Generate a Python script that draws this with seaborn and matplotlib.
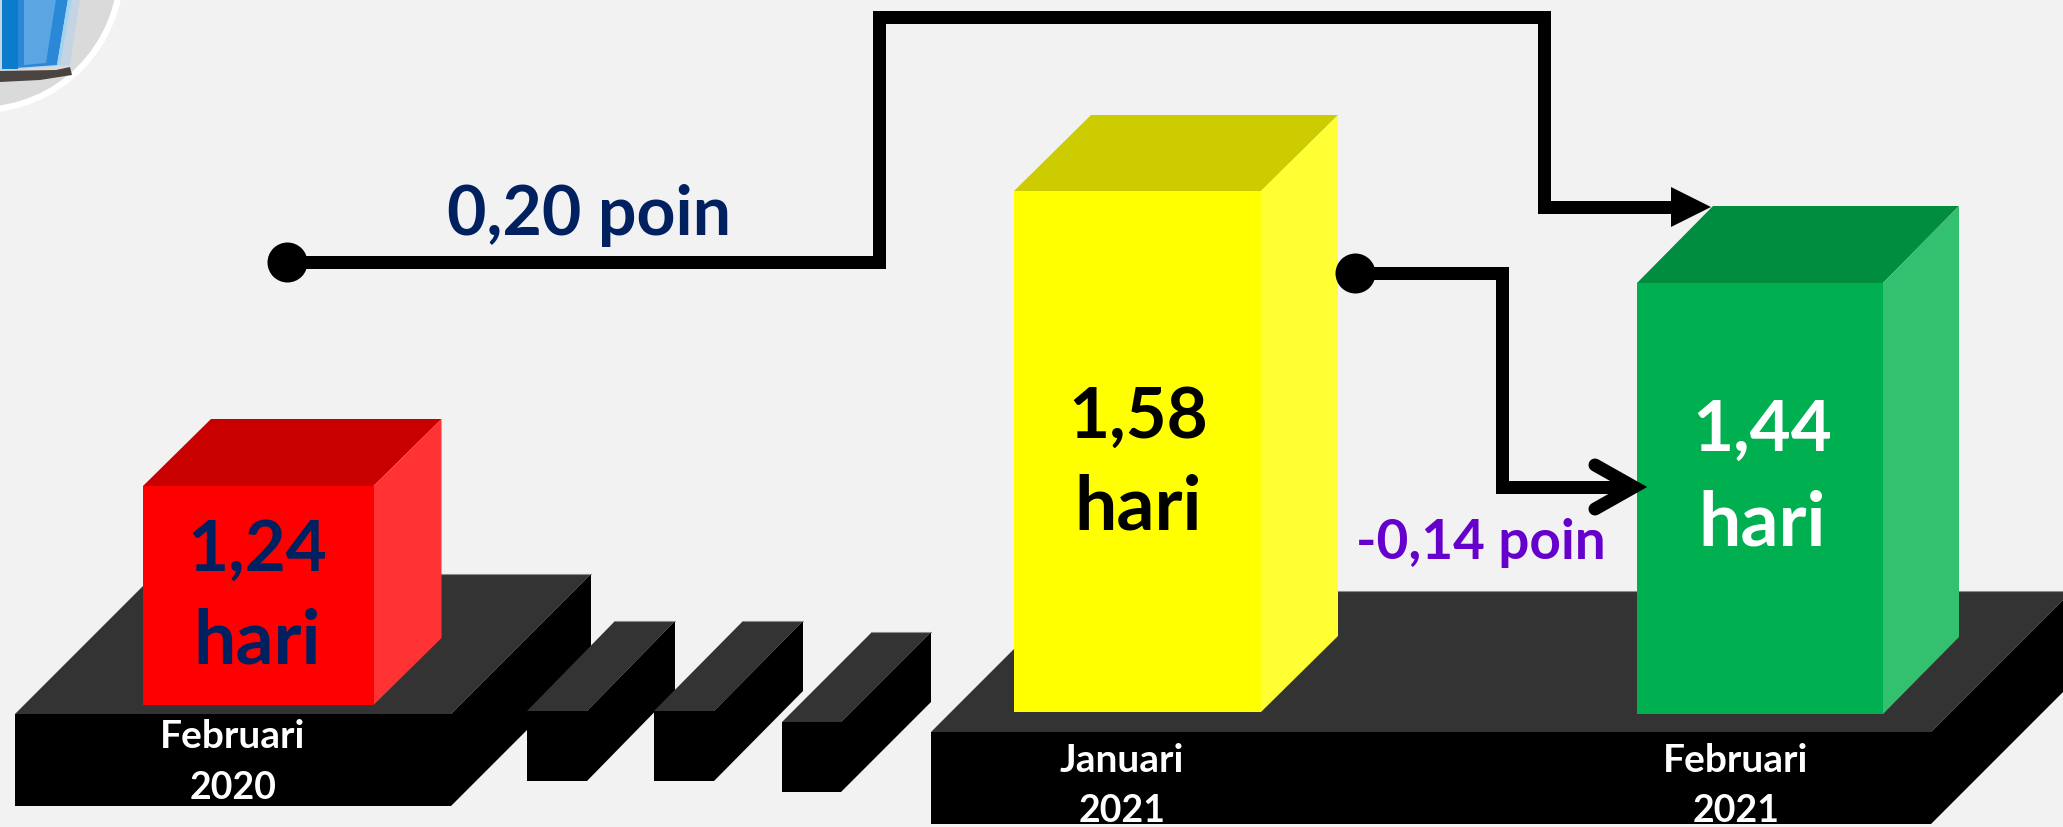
import matplotlib
matplotlib.use('Agg')
import matplotlib.pyplot as plt
from matplotlib.patches import Circle, Polygon
import pandas as pd
import seaborn as sns

W, H = 2063, 828

# values as printed on the bars
periods = ['Februari 2020', 'Januari 2021', 'Februari 2021']
values = ['1,24', '1,58', '1,44']
# the bars are pictorial and not to scale, these are the drawn heights in px
bar_heights = [219, 521, 431]

front_colors = ['#FF0000', '#FFFF00', '#00B050']
side_colors = ['#FF3333', '#FFFF33', '#33C06F']
top_colors = ['#C80000', '#CCCC00', '#008D40']
value_colors = ['#002060', '#000000', '#FFFFFF']

sns.set_theme(style='white')
plt.rcParams['font.family'] = ['Lato', 'DejaVu Sans']

BG = '#F2F2F2'
fig = plt.figure(figsize=(W / 100, H / 100), dpi=100, facecolor=BG)
ax = fig.add_axes([0, 0, 1, 1], facecolor=BG)


def py(y):
    return H - y


def poly(points, color, z):
    ax.add_patch(Polygon([(x, py(y)) for x, y in points], closed=True,
                         facecolor=color, edgecolor='none', zorder=z))


def block(x0, x1, y0, y1, dx, dy, z):
    poly([(x0, y0), (x1, y0), (x1 + dx, y0 - dy), (x0 + dx, y0 - dy)], '#333333', z)
    poly([(x1, y0), (x1 + dx, y0 - dy), (x1 + dx, y1 - dy), (x1, y1)], '#000000', z)
    poly([(x0, y0), (x1, y0), (x1, y1), (x0, y1)], '#000000', z)
    # thin light edge along the back of the top face
    ax.plot([x0 + dx, x1 + dx], [py(y0 - dy), py(y0 - dy)], color='#8C8C8C', lw=0.8, zorder=z)


# logo in the corner
ax.add_patch(Circle((-20, py(-30)), 141, facecolor='#DADADA', edgecolor='white', linewidth=4.5, zorder=1))
poly([(0, 0), (80, 0), (70, 66), (0, 72)], '#C4D4E4', 2)
poly([(2, 0), (68, 0), (57, 66), (2, 70)], '#2A88D6', 2)
poly([(2, 0), (18, 0), (18, 70), (2, 70)], '#0B7BCB', 2)
poly([(24, 0), (56, 0), (46, 64), (24, 66)], '#5BA6E2', 2)
poly([(68, 0), (72, 0), (60, 66), (57, 66)], '#9FD4F2', 3)
poly([(0, 72), (56, 71), (70, 68), (72, 76), (40, 81), (0, 83)], '#4A4340', 3)

# platforms and the broken axis pieces
block(15, 451, 715, 807, 140, 140, 2)
block(527, 587, 712, 782, 88, 90, 3)
block(654, 714, 712, 782, 89, 90, 3)
block(782, 841, 723, 793, 90, 90, 3)
block(931, 1931, 733, 825, 141, 141, 2)

# front faces come from seaborn
df = pd.DataFrame({'period': periods, 'height': bar_heights})
bar_left = [143, 1014, 1637]
bar_right = [373.5, 1261, 1883]
bar_bottom = [706, 713, 715]
df['center'] = [(a + b) / 2 for a, b in zip(bar_left, bar_right)]
sns.barplot(data=df, x='center', y='height', hue='period', palette=dict(zip(periods, front_colors)),
            native_scale=True, dodge=False, legend=False, saturation=1, linewidth=0, ax=ax, zorder=5)
bars = [p for c in ax.containers for p in c]
for bar, x0, x1, y1 in zip(bars, bar_left, bar_right, bar_bottom):
    bar.set_x(x0)
    bar.set_width(x1 - x0)
    bar.set_y(py(y1))

# side and top faces of the bars
depth_x = [68, 77, 76]
depth_y = [67, 76, 77]
for i in range(3):
    x0, x1, y1 = bar_left[i], bar_right[i], bar_bottom[i]
    y0 = y1 - bar_heights[i]
    dx, dy = depth_x[i], depth_y[i]
    poly([(x0, y0), (x1, y0), (x1 + dx, y0 - dy), (x0 + dx, y0 - dy)], top_colors[i], 4)
    poly([(x1, y0), (x1 + dx, y0 - dy), (x1 + dx, y1 - dy), (x1, y1)], side_colors[i], 4)

# connectors
LW = 13 * 0.72
line_1_x = [287, 879, 879, 1544, 1544, 1675]
line_1_y = [263, 263, 18, 18, 208, 208]
line_2_x = [1355, 1502, 1502, 1625]
line_2_y = [274, 274, 488, 488]
for xs, ys in [(line_1_x, line_1_y), (line_2_x, line_2_y)]:
    ax.plot(xs, [py(y) for y in ys], color='black', lw=LW, solid_joinstyle='miter',
            solid_capstyle='butt', zorder=6)
ax.scatter([287, 1355], [py(263), py(274)], s=(40 * 0.72) ** 2, color='black', linewidths=0, zorder=7)
poly([(1671, 188), (1711, 208), (1671, 228)], 'black', 7)
ax.plot([1595, 1634, 1595], [py(466), py(488), py(510)], color='black', lw=LW,
        solid_capstyle='round', solid_joinstyle='miter', zorder=7)


def label(x, y, s, color, size):
    ax.text(x, py(y), s, color=color, fontsize=size, fontweight='bold', ha='center', va='baseline', zorder=8)


# value labels
value_x = [257, 1138, 1762]
value_y = [571, 438, 451]
hari_y = [664, 529, 545]
for i in range(3):
    label(value_x[i], value_y[i], values[i], value_colors[i], 51)
    label(value_x[i], hari_y[i], 'hari', value_colors[i], 54)

label(589, 235, '0,20 poin', '#002060', 49)
label(1481, 559, '-0,14 poin', '#6600CC', 39.5)

# period labels
label(233, 748, 'Februari', 'white', 28)
label(233, 799, '2020', 'white', 27)
label(1122, 772, 'Januari', 'white', 28)
label(1122, 822, '2021', 'white', 27)
label(1736, 772, 'Februari', 'white', 28)
label(1736, 822, '2021', 'white', 27)

ax.set_xlim(0, W)
ax.set_ylim(0, H)
ax.axis('off')
fig.savefig('out.png', dpi=100, facecolor=BG)
